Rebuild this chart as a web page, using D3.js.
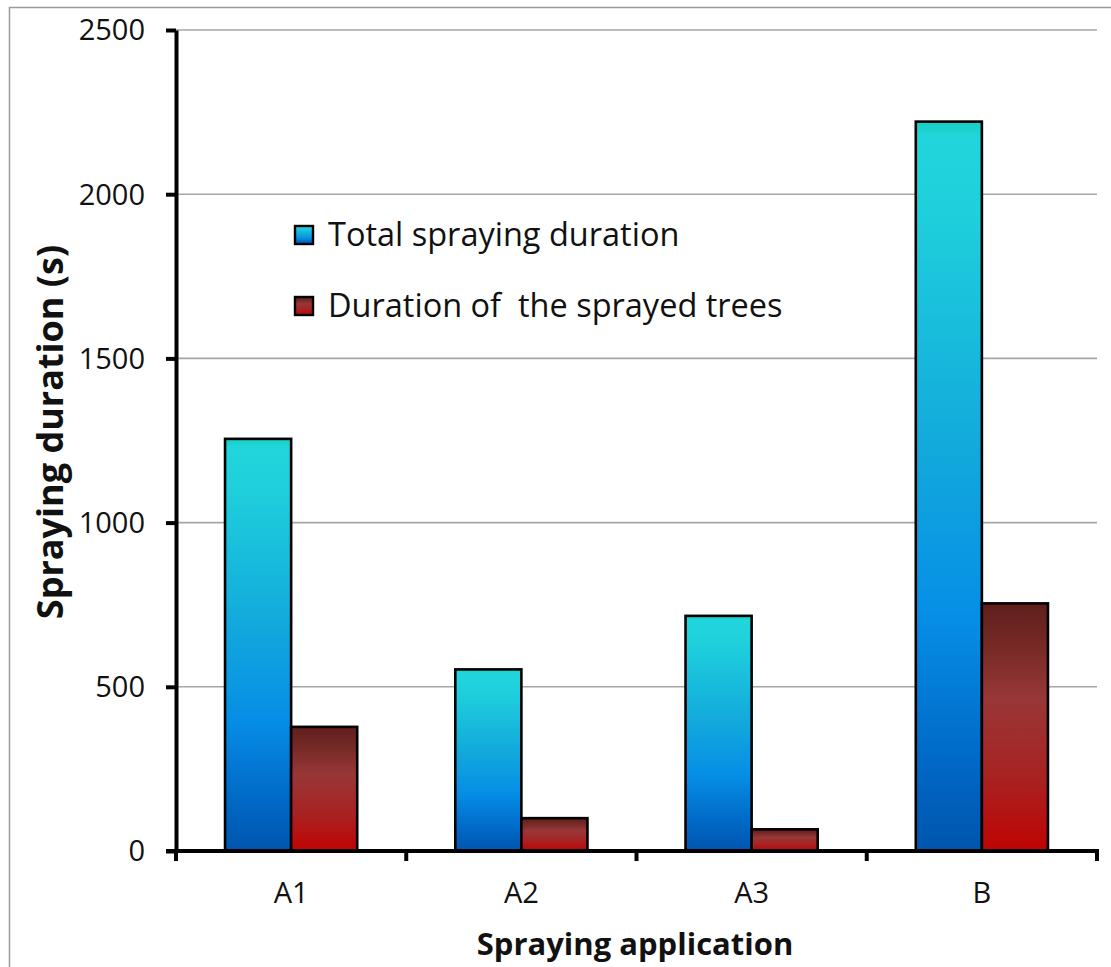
<!DOCTYPE html>
<html>
<head>
<meta charset="utf-8">
<script src="https://cdn.jsdelivr.net/npm/d3@7/dist/d3.min.js"></script>
<style>
  html, body { margin: 0; padding: 0; background: #fff; }
  svg { display: block; }
  text { font-family: "Open Sans", "Noto Sans", sans-serif; fill: #111; white-space: pre; }
</style>
</head>
<body>
<svg id="chart" width="1111" height="967"></svg>
<script>
// Spraying applications and measured durations (seconds)
const categories = ["A1", "A2", "A3", "B"];
const seriesNames = ["Total spraying duration", "Duration of  the sprayed trees"];
const totalDuration = [1255, 553, 716, 2221];
const sprayedTreesDuration = [378, 100, 66, 754];
const yTicks = [0, 500, 1000, 1500, 2000, 2500];

const svg = d3.select("#chart");
const W = 1111, H = 967;
const plot = { left: 176, right: 1097, top: 30, bottom: 851 };

// outer frame
svg.append("rect")
  .attr("x", 9.5).attr("y", 7.5)
  .attr("width", W + 20).attr("height", H + 20)
  .attr("fill", "none").attr("stroke", "#9a9a9a").attr("stroke-width", 1.5);

// gradients for the two series
const defs = svg.append("defs");
const gBlue = defs.append("linearGradient").attr("id", "gradBlue")
  .attr("x1", 0).attr("y1", 0).attr("x2", 0).attr("y2", 1);
[[0, "#14cfbf"], [0.02, "#22d5dc"], [0.12, "#1fd0dc"], [0.45, "#12a9dc"],
 [0.68, "#068ee6"], [0.88, "#0068c6"], [1, "#0055ad"]]
  .forEach(([o, c]) => gBlue.append("stop").attr("offset", o).attr("stop-color", c));
const gRed = defs.append("linearGradient").attr("id", "gradRed")
  .attr("x1", 0).attr("y1", 0).attr("x2", 0).attr("y2", 1);
[[0, "#5f1f1d"], [0.2, "#7a2b28"], [0.38, "#983737"], [0.7, "#a82222"], [1, "#c00303"]]
  .forEach(([o, c]) => gRed.append("stop").attr("offset", o).attr("stop-color", c));
const fills = ["url(#gradBlue)", "url(#gradRed)"];

const y = d3.scaleLinear().domain([0, 2500]).range([plot.bottom, plot.top]);
const x0 = d3.scaleBand().domain(categories).range([plot.left, plot.right])
  .paddingInner(0.426).paddingOuter(0.213);
const x1 = d3.scaleBand().domain(d3.range(seriesNames.length)).range([0, x0.bandwidth()]);

// horizontal gridlines
svg.append("g").selectAll("line")
  .data(yTicks.filter(t => t > 0))
  .join("line")
  .attr("x1", plot.left).attr("x2", plot.right)
  .attr("y1", d => y(d)).attr("y2", d => y(d))
  .attr("stroke", "#a6a6a6").attr("stroke-width", 1.6);

// bars
const seriesValues = [totalDuration, sprayedTreesDuration];
const groups = svg.append("g").selectAll("g")
  .data(categories)
  .join("g")
  .attr("transform", d => `translate(${x0(d)},0)`);
groups.selectAll("rect")
  .data((d, i) => seriesValues.map((vals, s) => ({ s, v: vals[i] })))
  .join("rect")
  .attr("x", d => x1(d.s))
  .attr("y", d => y(d.v))
  .attr("width", x1.bandwidth())
  .attr("height", d => y(0) - y(d.v))
  .attr("fill", d => fills[d.s])
  .attr("stroke", "#000").attr("stroke-width", 2.6);

// y axis
const yAxis = svg.append("g")
  .attr("transform", `translate(${plot.left},0)`)
  .call(d3.axisLeft(y).tickValues(yTicks).tickFormat(d3.format("d"))
    .tickSize(10).tickPadding(21).tickSizeOuter(0));
yAxis.select(".domain").attr("stroke", "#000").attr("stroke-width", 4);
yAxis.selectAll(".tick line").attr("stroke", "#000").attr("stroke-width", 4);
yAxis.selectAll(".tick text")
  .attr("font-family", "'Open Sans', sans-serif")
  .attr("font-size", 29).attr("fill", "#111").attr("dy", "0.34em");

// x axis with ticks between categories
const xAxis = svg.append("g").attr("transform", `translate(0,${plot.bottom})`);
xAxis.append("line")
  .attr("x1", plot.left - 10).attr("x2", plot.right + 2)
  .attr("y1", 0).attr("y2", 0)
  .attr("stroke", "#000").attr("stroke-width", 4);
const boundaries = categories.map(c => x0(c) - x0.step() * x0.paddingInner() / 2)
  .concat([plot.right]);
xAxis.selectAll(".bt").data(boundaries).join("line")
  .attr("class", "bt")
  .attr("x1", d => d).attr("x2", d => d)
  .attr("y1", 0).attr("y2", 10)
  .attr("stroke", "#000").attr("stroke-width", 4);
xAxis.selectAll(".lbl").data(categories).join("text")
  .attr("class", "lbl")
  .attr("x", d => x0(d) + x0.bandwidth() / 2)
  .attr("y", 52)
  .attr("text-anchor", "middle")
  .attr("font-size", 29)
  .text(d => d);

// axis titles
svg.append("text")
  .attr("x", 635).attr("y", 955)
  .attr("text-anchor", "middle")
  .attr("font-size", 31).attr("font-weight", "bold")
  .text("Spraying application");
svg.append("text")
  .attr("transform", "translate(63,432) rotate(-90)")
  .attr("text-anchor", "middle")
  .attr("font-size", 36).attr("font-weight", "bold")
  .text("Spraying duration (s)");

// legend
const legend = svg.append("g").attr("transform", "translate(295,226)");
const items = legend.selectAll("g").data(seriesNames).join("g")
  .attr("transform", (d, i) => `translate(0,${i * 71})`);
items.append("rect")
  .attr("x", 0).attr("y", 0).attr("width", 18).attr("height", 18)
  .attr("fill", (d, i) => fills[i])
  .attr("stroke", "#000").attr("stroke-width", 2.4);
items.append("text")
  .attr("x", 33).attr("y", 20)
  .attr("font-size", 32.5)
  .text(d => d);
</script>
</body>
</html>
